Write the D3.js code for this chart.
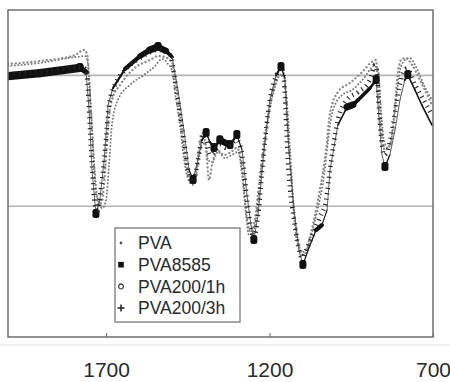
<!DOCTYPE html>
<html>
<head>
<meta charset="utf-8">
<script src="https://cdn.jsdelivr.net/npm/d3@7"></script>
<style>
  body { margin: 0; background: #fff; }
  svg { display: block; }
</style>
</head>
<body>
<svg width="450" height="382"></svg>
<script>
// series names (legend order)
const seriesNames = ["PVA", "PVA8585", "PVA200/1h", "PVA200/3h"];
const xTicks = [1700, 1200, 700];
const gridValues = [40, 80];

// [wavenumber, transmittance-like value]
const pva = [
  [2000,82.9],[1902,83.8],[1795,85.6],[1764,85.9],[1755,83.2],[1746,69.4],[1737,54.1],
  [1728,43.4],[1712,39.4],[1700,41.9],[1691,52.6],[1682,64.8],[1664,72.5],[1627,77.1],
  [1581,80.4],[1550,82.9],[1535,84.7],[1526,85.0],[1511,83.5],[1498,81.6],[1489,74.9],
  [1474,64.8],[1459,52.6],[1443,47.1],[1431,46.5],[1419,52.6],[1407,58.7],[1397,59.3],
  [1388,54.1],[1376,53.5],[1358,56.6],[1336,54.7],[1315,55.7],[1296,56.6],[1284,49.5],
  [1272,37.3],[1263,31.2],[1251,32.1],[1235,40.4],[1220,54.1],[1205,66.4],[1186,75.5],
  [1168,80.1],[1159,80.4],[1150,75.5],[1137,57.2],[1125,38.8],[1113,29.7],[1101,26.0],
  [1088,26.6],[1070,32.1],[1052,39.4],[1033,49.5],[1021,60.2],[1006,69.4],[978,74.0],
  [948,75.5],[911,79.2],[880,82.9],[868,81.6],[859,69.4],[850,60.2],[838,57.8],
  [825,61.8],[813,72.5],[801,81.6],[786,84.7],[770,85.3],[752,82.6],[728,77.1],[703,72.5]
];

const pva8585 = [
  [2000,79.8],[1902,80.7],[1780,82.3],[1761,81.0],[1752,69.4],[1743,51.1],[1731,37.6],
  [1719,41.9],[1706,54.1],[1694,70.9],[1679,76.1],[1642,82.0],[1596,85.9],[1566,87.8],
  [1541,88.7],[1517,87.5],[1498,85.6],[1480,75.5],[1462,63.3],[1446,51.1],[1434,48.0],
  [1419,54.1],[1407,60.2],[1394,62.4],[1382,59.6],[1370,57.8],[1352,60.2],[1333,59.3],
  [1321,58.7],[1300,61.8],[1284,57.2],[1269,43.4],[1257,34.2],[1248,29.7],[1235,37.3],
  [1217,57.2],[1199,72.5],[1180,80.1],[1165,82.6],[1153,79.2],[1141,57.2],[1125,38.8],
  [1110,26.6],[1098,22.0],[1082,26.6],[1058,32.7],[1040,34.2],[1024,38.8],[1015,51.1],
  [991,64.8],[963,70.3],[945,71.0],[929,72.5],[893,76.1],[874,78.6],[865,66.4],[856,55.7],
  [847,52.0],[832,55.7],[816,63.3],[801,72.5],[786,78.6],[777,80.1],[755,75.5],
  [734,70.9],[703,64.8]
];

const pva200_1h = [
  [2000,83.5],[1902,84.4],[1795,86.2],[1768,87.8],[1758,86.5],[1752,78.6],[1743,63.3],
  [1734,48.0],[1722,40.4],[1712,41.9],[1703,51.1],[1694,64.8],[1682,72.5],[1657,77.1],
  [1612,82.3],[1566,84.7],[1541,85.9],[1520,85.6],[1498,83.8],[1486,77.1],[1471,66.4],
  [1456,54.1],[1440,48.0],[1428,49.5],[1416,57.2],[1404,62.4],[1394,57.2],[1385,48.0],
  [1376,52.6],[1361,57.2],[1339,55.7],[1318,56.6],[1300,57.8],[1287,54.1],[1275,41.9],
  [1266,34.2],[1257,32.1],[1245,35.8],[1229,49.5],[1211,63.3],[1192,74.0],[1174,80.7],
  [1165,82.9],[1156,80.1],[1144,63.3],[1131,45.0],[1119,31.2],[1107,26.6],[1095,25.1],
  [1079,29.7],[1064,35.8],[1046,45.0],[1027,57.2],[1015,68.5],[991,74.9],[954,77.7],
  [917,81.0],[887,84.1],[874,84.7],[868,75.5],[859,63.3],[847,57.2],[832,58.7],
  [819,67.9],[810,78.6],[798,84.7],[783,85.3],[764,83.2],[740,78.6],[703,70.9]
];

const pva200_3h = [
  [2000,80.4],[1902,81.0],[1780,82.6],[1764,82.0],[1755,75.5],[1749,63.3],[1743,52.6],
  [1734,40.4],[1725,38.8],[1716,45.0],[1703,57.2],[1691,70.9],[1673,77.1],[1642,81.6],
  [1596,85.3],[1541,87.8],[1504,86.2],[1483,74.0],[1462,60.2],[1446,49.5],[1434,47.4],
  [1419,54.1],[1404,61.8],[1394,60.2],[1382,55.7],[1370,56.6],[1352,58.7],[1333,57.8],
  [1300,60.2],[1284,55.7],[1269,41.9],[1257,33.3],[1248,30.3],[1235,37.3],[1217,57.2],
  [1199,72.5],[1180,79.8],[1162,82.3],[1156,78.6],[1150,67.9],[1144,54.1],[1137,45.0],
  [1125,35.8],[1113,28.1],[1101,24.2],[1088,26.6],[1064,32.1],[1046,36.7],[1027,41.9],
  [1015,51.1],[991,66.4],[963,72.5],[929,74.9],[893,78.6],[877,83.2],[871,81.0],
  [865,69.4],[859,61.8],[850,55.7],[838,57.2],[825,63.3],[810,72.5],[795,79.8],
  [780,82.0],[755,77.1],[734,73.4],[703,67.9]
];

const svg = d3.select("svg");
const plot = { left: 8, right: 433, top: 10, bottom: 337 };

const x = d3.scaleLinear().domain([2000, 700]).range([plot.left, plot.right]);
const y = d3.scaleLinear().domain([0, 100]).range([plot.bottom, plot.top]);

svg.append("defs").append("clipPath").attr("id", "clip")
  .append("rect")
  .attr("x", plot.left).attr("y", plot.top)
  .attr("width", plot.right - plot.left + 3).attr("height", plot.bottom - plot.top);

// faint scan line under the frame
svg.append("line")
  .attr("x1", 0).attr("x2", 450).attr("y1", 345).attr("y2", 345)
  .attr("stroke", "#ececec").attr("stroke-width", 1.5);

// gridlines
svg.selectAll("line.grid")
  .data(gridValues)
  .enter()
  .append("line")
  .attr("class", "grid")
  .attr("x1", plot.left).attr("x2", plot.right)
  .attr("y1", d => y(d)).attr("y2", d => y(d))
  .attr("stroke", "#b4b4b4").attr("stroke-width", 1.6);

const line = d3.line()
  .x(d => x(d[0]))
  .y(d => y(d[1]))
  .curve(d3.curveMonotoneX);

const g = svg.append("g").attr("clip-path", "url(#clip)");

// PVA: small grey dots
g.append("path")
  .attr("d", line(pva))
  .attr("fill", "none")
  .attr("stroke", "#777")
  .attr("stroke-width", 1.9)
  .attr("stroke-linecap", "round")
  .attr("stroke-dasharray", "0.1 3.3");

// PVA200/1h: small open circles, look like grey dotted line
g.append("path")
  .attr("d", line(pva200_1h))
  .attr("fill", "none")
  .attr("stroke", "#8a8a8a")
  .attr("stroke-width", 2.3)
  .attr("stroke-linecap", "round")
  .attr("stroke-dasharray", "0.1 3.8");

// PVA8585: filled squares, dense where curve is flat -> thick black band
const flatness = d => {
  const dx = Math.abs(x(d[1][0]) - x(d[0][0]));
  const dy = Math.abs(y(d[1][1]) - y(d[0][1]));
  return dx / Math.hypot(dx, dy);
};

g.selectAll("line.sq")
  .data(d3.pairs(pva8585))
  .enter()
  .append("line")
  .attr("class", "sq")
  .attr("x1", d => x(d[0][0])).attr("y1", d => y(d[0][1]))
  .attr("x2", d => x(d[1][0])).attr("y2", d => y(d[1][1]))
  .attr("stroke", d => flatness(d) > 0.3 ? "#111" : "#555")
  .attr("stroke-linecap", "round")
  .attr("stroke-width", d => 0.9 + 7.5 * Math.pow(flatness(d), 3));

// squares pile up at the turning points of PVA8585
const turns = pva8585.filter((p, i, a) =>
  i > 0 && i < a.length - 1 &&
  ((p[1] < a[i - 1][1] && p[1] < a[i + 1][1]) || (p[1] > a[i - 1][1] && p[1] > a[i + 1][1])));

g.selectAll("rect.turn")
  .data(turns)
  .enter()
  .append("rect")
  .attr("class", "turn")
  .attr("x", d => x(d[0]) - 3.5)
  .attr("y", d => y(d[1]) - 5)
  .attr("width", 7)
  .attr("height", 9)
  .attr("rx", 2.5)
  .attr("fill", "#111");

// PVA200/3h: plus markers -> short crossing ticks along the curve
g.append("path")
  .attr("d", line(pva200_3h))
  .attr("fill", "none")
  .attr("stroke", "#222")
  .attr("stroke-width", 4.6)
  .attr("stroke-dasharray", "1.1 4.4");

// frame
svg.append("rect")
  .attr("x", plot.left).attr("y", plot.top)
  .attr("width", plot.right - plot.left).attr("height", plot.bottom - plot.top)
  .attr("fill", "none")
  .attr("stroke", "#6e6e6e")
  .attr("stroke-width", 1.5);

// x axis
const xAxis = d3.axisBottom(x)
  .tickValues(xTicks)
  .tickSize(-4)
  .tickPadding(25)
  .tickFormat(d3.format("d"));

const ax = svg.append("g")
  .attr("transform", `translate(0,${plot.bottom})`)
  .call(xAxis);
ax.select(".domain").remove();
ax.selectAll(".tick line").attr("stroke", "#777").attr("stroke-width", 1.2);
ax.selectAll(".tick text")
  .attr("font-family", "'Liberation Sans', Arial, sans-serif")
  .attr("font-size", 21)
  .attr("fill", "#2a2a2a");

// legend
const legend = svg.append("g");
legend.append("rect")
  .attr("x", 115).attr("y", 228)
  .attr("width", 125).attr("height", 94)
  .attr("fill", "#fff")
  .attr("stroke", "#8a8a8a")
  .attr("stroke-width", 1.5);

const rowY = i => 243 + i * 21.7;

const items = legend.selectAll("g.item")
  .data(seriesNames)
  .enter()
  .append("g")
  .attr("class", "item")
  .attr("transform", (d, i) => `translate(121,${rowY(i)})`);

items.each(function(d, i) {
  const s = d3.select(this);
  if (i === 0) {
    s.append("circle").attr("r", 1.4).attr("fill", "#555");
  } else if (i === 1) {
    s.append("rect").attr("x", -2.8).attr("y", -2.8).attr("width", 5.6).attr("height", 5.6).attr("fill", "#111");
  } else if (i === 2) {
    s.append("circle").attr("r", 2.4).attr("fill", "none").attr("stroke", "#444").attr("stroke-width", 1.3);
  } else {
    s.append("path").attr("d", "M-3.5,0H3.5M0,-3.5V3.5").attr("stroke", "#222").attr("stroke-width", 1.5);
  }
});

items.append("text")
  .attr("x", 17)
  .attr("y", 0)
  .attr("dy", "0.36em")
  .attr("font-family", "'Liberation Sans', Arial, sans-serif")
  .attr("font-size", 17.5)
  .attr("fill", "#2a2a2a")
  .text(d => d);
</script>
</body>
</html>
